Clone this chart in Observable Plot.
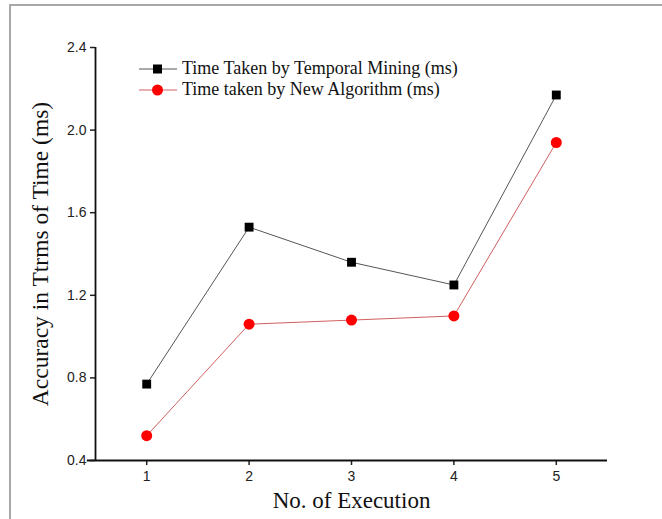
<!DOCTYPE html>
<html>
<head>
<meta charset="utf-8">
<script src="https://cdn.jsdelivr.net/npm/d3@7"></script>
<script src="https://cdn.jsdelivr.net/npm/@observablehq/plot@0.6"></script>
<style>
  html, body { margin: 0; padding: 0; background: #fff; }
  #wrap { position: relative; width: 662px; height: 519px; overflow: hidden; }
  #border { position: absolute; left: 9px; top: 4px; width: 700px; height: 600px;
            border-top: 2px solid #a8a8a8; border-left: 2px solid #a8a8a8; box-sizing: border-box; }
  #legend { position: absolute; left: 138px; top: 58px; font-family: "Liberation Serif", "Times New Roman", serif; font-size: 18px; color: #111; }
  #legend div { display: flex; align-items: center; height: 21px; }
  #legend svg { margin-right: 4px; }
</style>
</head>
<body>
<div id="wrap">
  <div id="border"></div>
  <div id="chart"></div>
  <div id="legend"></div>
</div>
<script>
const executions = [1, 2, 3, 4, 5];
const temporalMining = [0.77, 1.53, 1.36, 1.25, 2.17];
const newAlgorithm = [0.52, 1.06, 1.08, 1.10, 1.94];
const seriesNames = ["Time Taken by Temporal Mining (ms)", "Time taken by New Algorithm (ms)"];
const yTicks = [0.4, 0.8, 1.2, 1.6, 2.0, 2.4];
const xTitle = "No. of Execution";
const yTitle = "Accuracy in Ttrms of Time (ms)";

const colors = ["#000000", "#ff0000"];
const lineColors = ["#555555", "#d06060"];
const symbols = ["square", "circle"];

const data = [];
executions.forEach((x, i) => {
  data.push({x, y: temporalMining[i], s: seriesNames[0]});
  data.push({x, y: newAlgorithm[i], s: seriesNames[1]});
});
const d0 = data.filter(d => d.s === seriesNames[0]);
const d1 = data.filter(d => d.s === seriesNames[1]);

const serif = "'Liberation Serif', 'Times New Roman', serif";
const sans = "'Liberation Sans', Arial, sans-serif";

const chart = Plot.plot({
  width: 662,
  height: 519,
  marginLeft: 95,
  marginRight: 55,
  marginTop: 47,
  marginBottom: 59,
  style: {fontFamily: sans, fontSize: "14px", color: "#222", background: "transparent"},
  x: {domain: [0.5, 5.5]},
  y: {domain: [0.4, 2.4]},
  marks: [
    Plot.axisX({ticks: executions, tickSize: 5, tickPadding: 6, label: null, strokeWidth: 1.5, fontSize: 14, fill: "#222", tickFormat: d => String(d)}),
    Plot.axisY({ticks: yTicks, tickSize: 5, tickPadding: 4, label: null, strokeWidth: 1.5, fontSize: 14, fill: "#222", tickFormat: d => d.toFixed(1)}),
    Plot.ruleX([0.5], {y1: 0.4, y2: 2.4, stroke: "#111", strokeWidth: 1.8}),
    Plot.ruleY([0.4], {x1: 0.42, x2: 5.5, stroke: "#111", strokeWidth: 1.8}),
    Plot.line(d0, {x: "x", y: "y", stroke: lineColors[0], strokeWidth: 1}),
    Plot.line(d1, {x: "x", y: "y", stroke: lineColors[1], strokeWidth: 1}),
    Plot.dot(d0, {x: "x", y: "y", symbol: "square", r: 5, fill: colors[0], stroke: "none"}),
    Plot.dot(d1, {x: "x", y: "y", symbol: "circle", r: 5.5, fill: colors[1], stroke: "none"}),
    Plot.text([yTitle], {frameAnchor: "left", textAnchor: "middle", dx: -55, rotate: -90, fontFamily: serif, fontSize: 23.5, fill: "#111"}),
    Plot.text([xTitle], {frameAnchor: "bottom", textAnchor: "middle", dy: 47, fontFamily: serif, fontSize: 23, fill: "#111"})
  ]
});
document.getElementById("chart").appendChild(chart);

// Legend
const legend = document.getElementById("legend");
seriesNames.forEach((name, i) => {
  const row = document.createElement("div");
  const marker = symbols[i] === "square"
    ? `<rect x="15" y="5.5" width="9" height="9" fill="${colors[i]}"/>`
    : `<circle cx="19.5" cy="10" r="5.5" fill="${colors[i]}"/>`;
  row.innerHTML = `<svg width="40" height="20"><line x1="1" y1="10" x2="39" y2="10" stroke="${lineColors[i]}" stroke-width="1"/>${marker}</svg><span>${name}</span>`;
  legend.appendChild(row);
});
</script>
</body>
</html>
